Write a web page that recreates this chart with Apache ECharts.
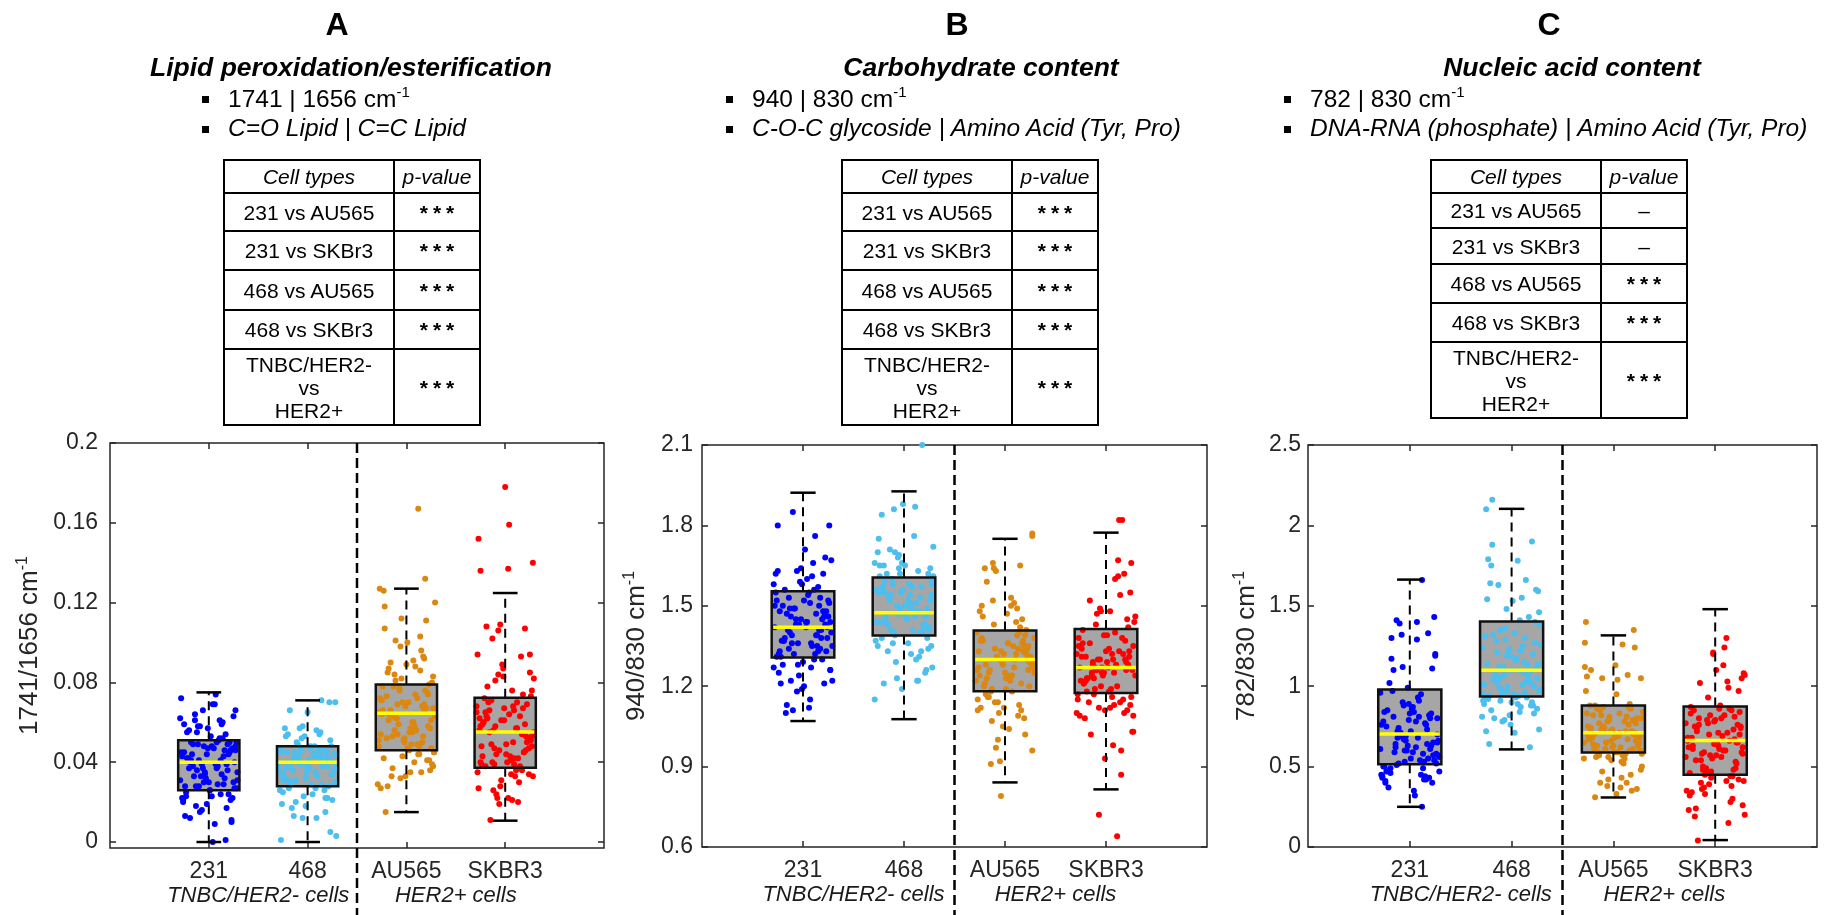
<!DOCTYPE html>
<html>
<head>
<meta charset="utf-8">
<script src="https://cdn.jsdelivr.net/npm/echarts@6/dist/echarts.min.js"></script>
<style>
body{margin:0;background:#fff;}
#chart{position:absolute;left:0;top:0;width:1834px;height:915px;}
.hd{position:absolute;font-family:'Liberation Sans',Arial,sans-serif;color:#000;white-space:nowrap;line-height:1;}
.hd sup{font-size:15px;vertical-align:0;position:relative;top:-10px;}
.blt{position:absolute;width:7px;height:7px;background:#000;}
.ptab{position:absolute;border-collapse:collapse;table-layout:fixed;font-family:'Liberation Sans',Arial,sans-serif;font-size:21px;color:#000;}
.ptab td{border:2px solid #000;padding:0;text-align:center;vertical-align:middle;line-height:23px;}
</style>
</head>
<body>
<div id="chart"></div>
<div id="heads"></div>
<script>
// ---- data ----
var panelLetters = ['A', 'B', 'C'];
var panelTitles = ['Lipid peroxidation/esterification', 'Carbohydrate content', 'Nucleic acid content'];
var bandLabels = ['1741 | 1656 cm', '940 | 830 cm', '782 | 830 cm'];
var bandNames = ['C=O Lipid | C=C Lipid', 'C-O-C glycoside | Amino Acid (Tyr, Pro)', 'DNA-RNA (phosphate) | Amino Acid (Tyr, Pro)'];
var comparisons = ['231 vs AU565', '231 vs SKBr3', '468 vs AU565', '468 vs SKBr3', 'TNBC/HER2-<br>vs<br>HER2+'];
var pValuesA = ['***', '***', '***', '***', '***'];
var pValuesB = ['***', '***', '***', '***', '***'];
var pValuesC = ['–', '–', '***', '***', '***'];
var cellTypes = ['231', '468', 'AU565', 'SKBR3'];
var groupLabels = ['TNBC/HER2- cells', 'HER2+ cells'];
var yNames = ['1741/1656 cm', '940/830 cm', '782/830 cm'];
var yTicksA = [0, 0.04, 0.08, 0.12, 0.16, 0.2];
var yTicksB = [0.6, 0.9, 1.2, 1.5, 1.8, 2.1];
var yTicksC = [0, 0.5, 1, 1.5, 2, 2.5];

// box stats: [min whisker, Q1, median, Q3, max whisker]
var boxA = [[0, 0.026, 0.040, 0.051, 0.075], [0, 0.028, 0.040, 0.048, 0.071], [0.015, 0.046, 0.0645, 0.079, 0.127], [0.0107, 0.0372, 0.0552, 0.0723, 0.1248]];
var boxB = [[1.07, 1.307, 1.42, 1.554, 1.922], [1.077, 1.389, 1.474, 1.606, 1.927], [0.841, 1.181, 1.30, 1.408, 1.75], [0.815, 1.175, 1.27, 1.413, 1.773]];
var boxC = [[0.25, 0.514, 0.702, 0.979, 1.663], [0.607, 0.936, 1.099, 1.403, 2.103], [0.308, 0.587, 0.711, 0.880, 1.316], [0.043, 0.450, 0.663, 0.874, 1.479]];

// horizontal jitter of the dots (category units)
var jitterX = [0.12,-0.25,0.03,0.27,-0.08,-0.19,0.21,-0.02,0.15,-0.29,0.08,-0.13,0.24,-0.22,0.01,0.18,-0.06,0.29,-0.16,0.06,-0.27,0.11,-0.04,0.22,-0.11,0.16,-0.24,0.04,0.26,-0.09,-0.18,0.13,-0.01,0.20,-0.28,0.09,-0.14,0.25,-0.05,0.17,-0.21,0.02,0.28,-0.12,0.07,-0.26,0.19,-0.03,0.14,-0.17,0.23,-0.07,0.10,-0.23,0.05,0.27,-0.15,-0.10,0.18,-0.20,0.00,0.21,-0.27,0.08,-0.06,0.25,-0.13,0.15,-0.24,0.03,0.29,-0.09,0.12,-0.19,0.06,-0.29,0.22,-0.02,0.17,-0.16,0.26,-0.11,0.04,-0.22,0.13,-0.04,0.24,-0.25,0.09,-0.14,0.19,-0.07,0.28,-0.18,0.01,-0.28,0.16,-0.01,0.23,-0.12,0.07,-0.23,0.20,-0.05,0.11,-0.20,0.27,-0.10,0.14,-0.26];

// panel A dots
var a231 = [0.041,0.059,0.023,0.048,0.033,0.012,0.050,0.044,0.029,0.062,0.037,0.018,0.047,0.055,0.026,0.039,0.066,0.031,0.049,0.009,0.043,0.052,0.035,0.021,0.058,0.046,0.028,0.069,0.040,0.015,0.050,0.034,0.057,0.024,0.045,0.038,0.061,0.030,0.048,0.001,0.042,0.053,0.027,0.036,0.074,0.020,0.049,0.032,0.060,0.044,0.011,0.039,0.051,0.025,0.047,0.066,0.033,0.041,0.017,0.056,0.030,0.045,0.022,0.050,0.037,0.063,0.028,0.043,0.013,0.048,0.035,0.058,0.024,0.040,0.069,0.031,0.046,0.019,0.054,0.038,0.027,0.049,0.000,0.042,0.059,0.034,0.022,0.045,0.029,0.064,0.036,0.016,0.050,0.041,0.026,0.072,0.032,0.047,0.010,0.055,0.039,0.023,0.044,0.030,0.061,0.037,0.046,0.028,0.052,0.021];
var a468 = [0.043,0.030,0.055,0.038,0.022,0.047,0.012,0.041,0.034,0.058,0.026,0.045,0.037,0.070,0.031,0.048,0.019,0.042,0.053,0.029,0.039,0.005,0.046,0.033,0.057,0.024,0.044,0.036,0.049,0.015,0.040,0.065,0.028,0.045,0.035,0.052,0.021,0.043,0.038,0.031,0.047,0.003,0.041,0.054,0.027,0.044,0.036,0.070,0.032,0.046,0.017,0.040,0.050,0.029,0.037,0.042,0.023,0.048,0.034,0.056,0.013,0.045,0.039,0.030,0.066,0.041,0.026,0.047,0.035,0.051,0.020,0.043,0.032,0.038,0.012,0.046,0.054,0.029,0.040,0.071,0.033,0.044,0.025,0.048,0.036,0.057,0.031,0.042,0.018,0.047,0.039,0.027,0.045,0.034,0.053,0.041,0.022,0.046,0.037,0.030,0.044,0.001];
var aAU565 = [0.066,0.052,0.089,0.041,0.072,0.058,0.098,0.047,0.063,0.035,0.078,0.055,0.120,0.069,0.044,0.085,0.060,0.029,0.074,0.050,0.093,0.066,0.039,0.081,0.057,0.107,0.048,0.070,0.036,0.064,0.088,0.053,0.132,0.076,0.045,0.061,0.100,0.051,0.068,0.033,0.079,0.056,0.091,0.042,0.067,0.112,0.049,0.073,0.038,0.062,0.086,0.054,0.167,0.071,0.046,0.083,0.059,0.028,0.075,0.052,0.096,0.065,0.040,0.078,0.057,0.118,0.047,0.069,0.032,0.063,0.090,0.055,0.127,0.072,0.043,0.058,0.101,0.050,0.066,0.035,0.080,0.054,0.087,0.044,0.068,0.111,0.048,0.074,0.037,0.061,0.082,0.053,0.015,0.070,0.045,0.084,0.060,0.027,0.076,0.051,0.103,0.064,0.041,0.077,0.056,0.126,0.049,0.067,0.033,0.062,0.092];
var aSKBR3 = [0.058,0.039,0.071,0.045,0.084,0.033,0.062,0.049,0.094,0.037,0.067,0.052,0.026,0.076,0.043,0.059,0.109,0.036,0.065,0.048,0.081,0.030,0.056,0.070,0.040,0.137,0.053,0.022,0.063,0.046,0.087,0.038,0.068,0.050,0.102,0.034,0.060,0.044,0.074,0.019,0.055,0.066,0.041,0.152,0.057,0.031,0.069,0.047,0.093,0.039,0.064,0.051,0.024,0.078,0.042,0.061,0.107,0.035,0.066,0.049,0.085,0.028,0.054,0.072,0.040,0.140,0.056,0.021,0.062,0.045,0.089,0.037,0.070,0.052,0.106,0.033,0.059,0.043,0.076,0.011,0.058,0.067,0.038,0.178,0.053,0.027,0.068,0.046,0.094,0.040,0.063,0.048,0.022,0.082,0.044,0.057,0.108,0.034,0.065,0.050,0.083,0.036,0.055,0.073,0.039,0.159,0.060,0.020,0.061,0.047,0.136,0.042];

// panel B dots
var b231 = [1.45,1.33,1.58,1.27,1.49,1.38,1.21,1.52,1.41,1.63,1.35,1.47,1.12,1.55,1.30,1.43,1.68,1.36,1.50,1.25,1.44,1.80,1.32,1.56,1.39,1.19,1.48,1.42,1.61,1.34,1.46,1.28,1.53,1.37,1.71,1.40,1.22,1.51,1.31,1.45,1.59,1.35,1.10,1.48,1.43,1.66,1.33,1.54,1.26,1.41,1.85,1.38,1.50,1.29,1.46,1.62,1.36,1.18,1.52,1.40,1.57,1.32,1.44,1.22,1.49,1.76,1.37,1.55,1.27,1.43,1.64,1.34,1.13,1.51,1.39,1.60,1.31,1.47,1.24,1.42,1.80,1.35,1.53,1.30,1.45,1.67,1.38,1.20,1.50,1.41,1.58,1.33,1.46,1.15,1.48,1.62,1.36,1.56,1.28,1.44,1.11,1.39,1.52,1.32,1.63,1.42,1.26,1.49,1.37,1.21];
var b468 = [1.52,1.41,1.64,1.33,1.57,1.46,1.27,1.60,1.49,1.70,1.43,1.55,1.22,1.62,1.38,1.50,1.76,1.44,1.58,1.35,1.53,1.86,1.40,1.65,1.47,1.25,1.56,1.48,1.68,1.42,1.54,1.31,1.61,1.45,1.72,1.39,1.30,1.59,1.51,1.66,1.46,1.19,1.57,1.43,1.64,1.36,1.52,1.84,1.48,1.62,1.34,1.55,1.41,1.71,1.47,1.23,1.58,1.44,1.65,1.37,1.53,1.88,1.49,1.60,1.32,1.56,1.42,1.69,1.46,1.21,1.54,1.40,1.63,1.35,1.51,1.75,1.45,1.59,1.29,1.55,1.43,1.66,1.48,1.15,1.57,1.41,1.62,1.38,1.50,2.10,1.47,1.61,1.33,1.54,1.44,1.87,1.49,1.26,1.58,1.40,1.65,1.36,1.52,1.70,1.46,1.22,1.56,1.42];
var bAU565 = [1.31,1.19,1.42,1.12,1.36,1.25,0.97,1.39,1.28,1.50,1.22,1.34,1.05,1.45,1.16,1.30,1.64,1.24,1.37,1.09,1.33,1.20,1.48,1.27,0.91,1.35,1.14,1.29,1.59,1.23,1.40,1.11,1.32,1.26,1.52,1.18,1.38,1.02,1.30,1.44,1.21,1.76,1.34,1.13,1.27,1.49,1.24,1.36,0.96,1.31,1.17,1.41,1.28,1.65,1.22,1.35,1.07,1.29,1.46,1.19,1.33,1.10,1.38,1.25,1.53,1.15,1.32,0.79,1.30,1.43,1.21,1.37,1.04,1.28,1.63,1.23,1.34,1.12,1.39,1.26,1.51,1.18,1.31,0.92,1.36,1.20,1.47,1.27,1.66,1.24,1.33,1.08,1.29,1.40,1.16,1.35,1.00,1.30,1.50,1.22,1.77,1.26,1.14,1.37,1.64,1.25,1.32,1.11];
var bSKBR3 = [1.29,1.17,1.38,1.11,1.33,1.23,0.98,1.36,1.26,1.48,1.20,1.31,1.03,1.43,1.14,1.27,1.61,1.22,1.34,1.09,1.30,1.18,1.45,1.25,0.87,1.32,1.13,1.28,1.55,1.21,1.39,1.10,1.30,1.24,1.52,1.16,1.35,0.64,1.27,1.42,1.19,1.82,1.31,1.12,1.26,1.47,1.23,1.33,0.93,1.29,1.15,1.40,1.25,1.66,1.20,1.32,1.08,1.27,1.44,1.17,1.30,1.09,1.37,1.24,1.54,1.14,1.31,0.72,1.28,1.41,1.19,1.35,1.02,1.26,1.62,1.22,1.33,1.11,1.38,1.25,1.49,1.16,1.29,0.96,1.34,1.18,1.46,1.26,1.67,1.23,1.32,1.10,1.28,1.39,1.15,1.36,1.03,1.27,1.48,1.21,1.82,1.25,1.13,1.35,1.60,1.24,1.30,1.12];

// panel C dots
var c231 = [0.72,0.55,0.88,0.47,0.81,0.62,0.43,0.95,0.66,1.11,0.52,0.76,0.40,0.84,0.58,0.69,1.30,0.49,0.79,0.61,0.45,0.91,0.64,1.19,0.53,0.73,0.37,0.86,0.57,0.68,1.40,0.50,0.82,0.60,0.42,0.97,0.65,1.12,0.54,0.75,0.32,0.80,0.59,0.70,1.33,0.48,0.83,0.63,0.44,0.93,0.67,1.20,0.51,0.77,0.41,0.87,0.56,0.71,1.66,0.46,0.78,0.61,0.40,0.99,0.64,1.10,0.52,0.74,0.35,0.85,0.58,0.69,1.43,0.50,0.81,0.62,0.43,0.90,0.66,1.17,0.55,0.76,0.42,0.89,0.57,0.72,1.29,0.47,0.80,0.60,0.45,1.02,0.65,1.39,0.53,0.78,0.25,0.84,0.59,0.70,1.32,0.49,0.83,0.63,0.44,0.96,0.68,1.41,0.54];
var c468 = [1.12,0.94,1.31,0.88,1.22,1.03,0.80,1.40,1.07,1.55,0.92,1.17,0.73,1.28,0.98,1.09,1.75,0.90,1.20,1.01,0.84,1.36,1.05,1.63,0.93,1.14,0.71,1.26,0.96,1.08,1.88,0.89,1.24,1.00,0.82,1.43,1.06,1.59,0.91,1.16,0.64,1.30,0.97,1.11,2.10,0.87,1.21,1.02,0.79,1.38,1.04,1.53,0.95,1.13,0.76,1.27,0.99,1.10,1.79,0.90,1.19,1.01,0.85,1.46,1.06,1.66,0.92,1.15,0.72,1.33,0.97,1.12,2.16,0.88,1.23,1.03,0.81,1.41,1.05,1.60,0.94,1.18,0.62,1.29,0.98,1.08,1.78,0.89,1.25,1.00,0.83,1.35,1.07,1.54,0.93,1.14,0.78,1.32,0.96,1.10,1.90,0.91,1.22,1.02,0.86,1.48,1.04,1.64,0.95];
var cAU565 = [0.72,0.61,0.83,0.55,0.77,0.66,0.45,0.86,0.69,1.05,0.59,0.74,0.40,0.81,0.63,0.70,1.26,0.57,0.79,0.65,0.50,0.88,0.68,1.12,0.60,0.73,0.36,0.82,0.62,0.71,1.35,0.56,0.78,0.64,0.48,0.87,0.67,1.06,0.58,0.75,0.33,0.80,0.61,0.70,1.24,0.54,0.76,0.65,0.43,0.85,0.69,1.10,0.59,0.72,0.38,0.84,0.63,0.71,1.40,0.55,0.79,0.66,0.47,0.89,0.67,1.04,0.60,0.74,0.31,0.81,0.62,0.70,1.27,0.57,0.77,0.64,0.42,0.86,0.68,1.13,0.58,0.73,0.37,0.83,0.61,0.72,1.07,0.56,0.80,0.65,0.52,0.88,0.69,1.05,0.59,0.75,0.35,0.82,0.63,0.71,0.97,0.53,0.78,0.66,0.40,0.87,0.68,0.95];
var cSKBR3 = [0.68,0.49,0.82,0.41,0.75,0.58,0.33,0.86,0.62,1.03,0.46,0.71,0.26,0.79,0.54,0.65,1.21,0.44,0.77,0.60,0.36,0.84,0.63,1.10,0.48,0.70,0.20,0.80,0.56,0.66,1.30,0.43,0.76,0.59,0.38,0.87,0.61,1.05,0.47,0.72,0.15,0.78,0.53,0.67,1.24,0.40,0.74,0.57,0.30,0.85,0.64,1.08,0.50,0.69,0.23,0.81,0.55,0.66,0.04,0.42,0.77,0.60,0.34,0.88,0.62,1.02,0.45,0.73,0.19,0.79,0.52,0.68,1.13,0.39,0.75,0.58,0.28,0.83,0.63,1.07,0.49,0.71,0.24,0.80,0.56,0.65,1.20,0.44,0.76,0.59,0.37,0.86,0.61,0.99,0.47,0.70,0.32,0.82,0.54,0.67,0.93,0.41,0.74,0.57,0.35,0.85,0.64,0.97,0.48];

// ---- layout / style ----
var FONT = "'Liberation Sans', Arial, sans-serif";
var AXIS_COLOR = '#262626';
var groupColors = ['#0000ff', '#4dbeee', '#da8812', '#ff0000'];
var BOX_HALF = 0.31, CAP_HALF = 0.125;

var panels = [
  { grid: {left: 110, top: 443, width: 494, height: 405}, yMin: -0.003, yMax: 0.2, yTicks: yTicksA, box: boxA,
    dots: [a231, a468, aAU565, aSKBR3], pValues: pValuesA, labelMargin: 12, nameGap: 65,
    letterX: 337, titleX: 351, textX: 228, tableX: 223, rows: [33, 38, 39, 40, 39, 76] },
  { grid: {left: 702, top: 445, width: 505, height: 402}, yMin: 0.6, yMax: 2.1, yTicks: yTicksB, box: boxB,
    dots: [b231, b468, bAU565, bSKBR3], pValues: pValuesB, labelMargin: 9, nameGap: 50,
    letterX: 957, titleX: 981, textX: 752, tableX: 841, rows: [33, 38, 39, 40, 39, 76] },
  { grid: {left: 1308, top: 445, width: 509, height: 402}, yMin: 0, yMax: 2.5, yTicks: yTicksC, box: boxC,
    dots: [c231, c468, cAU565, cSKBR3], pValues: pValuesC, labelMargin: 7, nameGap: 46,
    letterX: 1549, titleX: 1572, textX: 1310, tableX: 1430, rows: [33, 35, 36, 39, 39, 76] }
];

// ---- headers and tables (html) ----
var heads = document.getElementById('heads');
function addText(html, x, y, css, centered) {
  var d = document.createElement('div');
  d.className = 'hd';
  d.innerHTML = html;
  d.style.left = x + 'px';
  d.style.top = y + 'px';
  d.style.transform = centered ? 'translate(-50%,-50%)' : 'translate(0,-50%)';
  d.style.cssText += css;
  heads.appendChild(d);
}
function addBullet(x, y) {
  var b = document.createElement('div');
  b.className = 'blt';
  b.style.left = (x - 3) + 'px';
  b.style.top = (y - 3) + 'px';
  heads.appendChild(b);
}
panels.forEach(function (p, k) {
  addText(panelLetters[k], p.letterX, 24, 'font-size:32px;font-weight:bold;', true);
  addText(panelTitles[k], p.titleX, 67, 'font-size:26.5px;font-weight:bold;font-style:italic;', true);
  addText(bandLabels[k] + '<sup>-1</sup>', p.textX, 99, 'font-size:24.5px;', false);
  addText(bandNames[k], p.textX, 128, 'font-size:24.5px;font-style:italic;', false);
  addBullet(p.textX - 23, 99);
  addBullet(p.textX - 23, 129);

  var t = document.createElement('table');
  t.className = 'ptab';
  t.style.left = p.tableX + 'px';
  t.style.top = '159px';
  var html = '<colgroup><col style="width:170px"><col style="width:86px"></colgroup>';
  html += '<tr style="height:' + p.rows[0] + 'px"><td style="font-style:italic">Cell types</td><td style="font-style:italic">p-value</td></tr>';
  comparisons.forEach(function (c, r) {
    var pv = p.pValues[r];
    var pvHtml = pv === '***' ? '<span style="font-weight:bold;letter-spacing:5px;padding-left:5px">***</span>' : pv;
    html += '<tr style="height:' + p.rows[r + 1] + 'px"><td>' + c + '</td><td>' + pvHtml + '</td></tr>';
  });
  t.innerHTML = html;
  heads.appendChild(t);
});

// ---- chart ----
function renderBoxFill(params, api) {
  var x = api.value(0);
  var lt = api.coord([x - BOX_HALF, api.value(4)]);
  var rb = api.coord([x + BOX_HALF, api.value(2)]);
  return {
    type: 'rect',
    shape: {x: lt[0], y: lt[1], width: rb[0] - lt[0], height: rb[1] - lt[1]},
    style: {fill: '#a6a6a6'}
  };
}

function renderBoxLines(params, api) {
  var x = api.value(0);
  var pMin = api.coord([x, api.value(1)]);
  var pQ1 = api.coord([x, api.value(2)]);
  var pMed = api.coord([x, api.value(3)]);
  var pQ3 = api.coord([x, api.value(4)]);
  var pMax = api.coord([x, api.value(5)]);
  var half = api.size([BOX_HALF, 0])[0];
  var cap = api.size([CAP_HALF, 0])[0];
  var cx = pMed[0];
  var dash = {stroke: '#000', lineWidth: 2, lineDash: [9, 6]};
  var solid = {stroke: '#000', lineWidth: 2.5};
  return {
    type: 'group',
    children: [
      {type: 'line', shape: {x1: cx, y1: pQ3[1], x2: cx, y2: pMax[1]}, style: dash},
      {type: 'line', shape: {x1: cx, y1: pQ1[1], x2: cx, y2: pMin[1]}, style: dash},
      {type: 'line', shape: {x1: cx - cap, y1: pMax[1], x2: cx + cap, y2: pMax[1]}, style: solid},
      {type: 'line', shape: {x1: cx - cap, y1: pMin[1], x2: cx + cap, y2: pMin[1]}, style: solid},
      {type: 'rect', shape: {x: cx - half, y: pQ3[1], width: 2 * half, height: pQ1[1] - pQ3[1]},
        style: {fill: 'none', stroke: '#111', lineWidth: 2.5}},
      {type: 'line', shape: {x1: cx - half + 1.5, y1: pMed[1], x2: cx + half - 1.5, y2: pMed[1]},
        style: {stroke: '#ffff00', lineWidth: 3.5}}
    ]
  };
}

function renderDivider(params, api) {
  var top = api.coord([api.value(0), api.value(1)]);
  return {
    type: 'line',
    shape: {x1: top[0], y1: top[1], x2: top[0], y2: api.getHeight()},
    style: {stroke: '#000', lineWidth: 2.5, lineDash: [10, 5]}
  };
}

var option = {
  animation: false,
  textStyle: {fontFamily: FONT},
  grid: [], xAxis: [], yAxis: [], series: []
};

panels.forEach(function (p, k) {
  option.grid.push(Object.assign({show: true, borderColor: AXIS_COLOR, borderWidth: 1.5,
    backgroundColor: 'transparent'}, p.grid));

  var xi = option.xAxis.length;
  var tickStyle = {color: AXIS_COLOR, width: 1.5};
  option.xAxis.push({
    gridIndex: k, type: 'value', position: 'bottom', min: 0, max: 5, interval: 1,
    axisLine: {show: false, onZero: false}, splitLine: {show: false},
    axisTick: {inside: true, length: 6, customValues: [1, 2, 3, 4], lineStyle: tickStyle},
    axisLabel: {customValues: [1, 2, 3, 4], margin: 12, fontSize: 23, color: AXIS_COLOR, fontFamily: FONT,
      formatter: function (v) { return cellTypes[Math.round(v) - 1] || ''; }}
  });
  option.xAxis.push({
    gridIndex: k, type: 'value', position: 'bottom', min: 0, max: 5, interval: 0.5,
    axisLine: {show: false, onZero: false}, splitLine: {show: false}, axisTick: {show: false},
    axisLabel: {customValues: [1.5, 3.5], margin: 37, fontSize: 22, fontStyle: 'italic', color: '#1a1a1a', fontFamily: FONT,
      formatter: function (v) { return v < 2.5 ? groupLabels[0] : groupLabels[1]; }}
  });
  option.xAxis.push({
    gridIndex: k, type: 'value', position: 'top', min: 0, max: 5, interval: 1,
    axisLine: {show: false, onZero: false}, splitLine: {show: false}, axisLabel: {show: false},
    axisTick: {inside: true, length: 6, customValues: [1, 2, 3, 4], lineStyle: tickStyle}
  });

  var yi = option.yAxis.length;
  option.yAxis.push({
    gridIndex: k, type: 'value', position: 'left', min: p.yMin, max: p.yMax,
    axisLine: {show: false, onZero: false}, splitLine: {show: false},
    axisTick: {inside: true, length: 6, customValues: p.yTicks, lineStyle: tickStyle},
    axisLabel: {customValues: p.yTicks, margin: p.labelMargin, fontSize: 23, color: AXIS_COLOR, fontFamily: FONT,
      formatter: function (v) { return String(+v.toFixed(3)); }},
    name: '{n|' + yNames[k] + '}{s|-1}', nameLocation: 'middle', nameRotate: 90, nameGap: p.nameGap,
    nameTextStyle: {color: AXIS_COLOR, fontFamily: FONT, rich: {
      n: {fontSize: 26, lineHeight: 30, color: AXIS_COLOR, fontFamily: FONT},
      s: {fontSize: 16, verticalAlign: 'top', color: AXIS_COLOR, fontFamily: FONT}
    }}
  });
  option.yAxis.push({
    gridIndex: k, type: 'value', position: 'right', min: p.yMin, max: p.yMax,
    axisLine: {show: false, onZero: false}, splitLine: {show: false}, axisLabel: {show: false},
    axisTick: {inside: true, length: 6, customValues: p.yTicks, lineStyle: tickStyle}
  });

  var boxData = p.box.map(function (b, g) { return [g + 1].concat(b); });

  option.series.push({
    type: 'custom', xAxisIndex: xi, yAxisIndex: yi, renderItem: renderBoxFill, silent: true, z: 1,
    encode: {x: 0, y: [1, 2, 3, 4, 5]}, data: boxData
  });
  p.dots.forEach(function (vals, g) {
    option.series.push({
      type: 'scatter', xAxisIndex: xi, yAxisIndex: yi, silent: true, z: 2,
      symbolSize: 6, itemStyle: {color: groupColors[g], opacity: 1},
      data: vals.map(function (v, i) {
        return [g + 1 + jitterX[(i + g * 29 + k * 7) % jitterX.length], v];
      })
    });
  });
  option.series.push({
    type: 'custom', xAxisIndex: xi, yAxisIndex: yi, renderItem: renderBoxLines, silent: true, z: 3,
    encode: {x: 0, y: [1, 2, 3, 4, 5]}, data: boxData
  });
  option.series.push({
    type: 'custom', xAxisIndex: xi, yAxisIndex: yi, renderItem: renderDivider, silent: true, z: 4,
    clip: false, encode: {x: 0, y: 1}, data: [[2.5, p.yMax]]
  });
});

var chart = echarts.init(document.getElementById('chart'), null, {renderer: 'canvas'});
chart.setOption(option);
</script>
</body>
</html>
